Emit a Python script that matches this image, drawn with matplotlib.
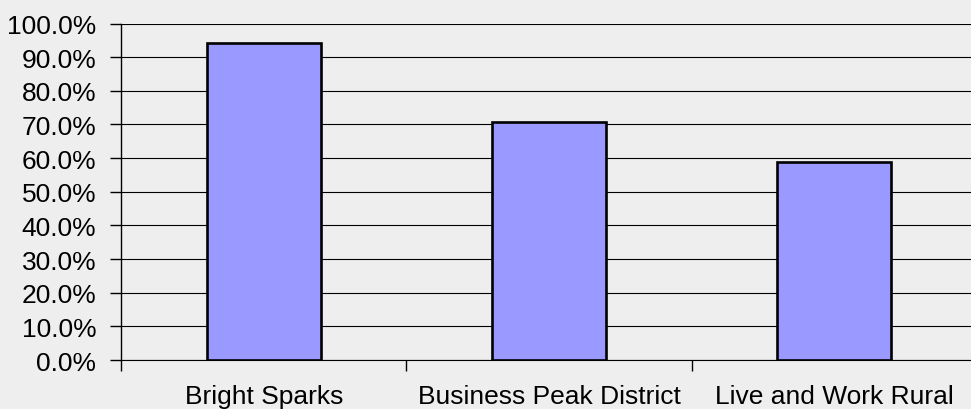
import matplotlib
matplotlib.use("Agg")
import matplotlib.pyplot as plt
from matplotlib.ticker import FixedLocator, FuncFormatter

categories = ["Bright Sparks", "Business Peak District", "Live and Work Rural"]
values = [94.3, 70.7, 58.9]
y_ticks = [0, 10, 20, 30, 40, 50, 60, 70, 80, 90, 100]

plt.rcParams["font.family"] = ["Liberation Sans", "DejaVu Sans"]

bg = "#EEEEEE"
fig = plt.figure(figsize=(9.71, 4.10), dpi=100, facecolor=bg)
ax = fig.add_axes([0.1251, 0.1195, 0.8806, 0.8207], facecolor=bg)

x = list(range(len(categories)))
ax.bar(x, values, width=0.4, color="#9999FF", edgecolor="black",
       linewidth=1.9, zorder=3)

ax.set_xlim(-0.5, len(categories) - 0.5)
ax.set_ylim(0, 100)

# horizontal gridlines at every major y tick
ax.set_yticks(y_ticks)
ax.yaxis.set_major_formatter(FuncFormatter(lambda v, p: f"{v:.1f}%"))
ax.grid(axis="y", color="black", linewidth=0.8, zorder=1)
ax.set_axisbelow(True)

# category labels centred, tick marks on category boundaries
ax.set_xticks(x)
ax.set_xticklabels(categories)
ax.xaxis.set_minor_locator(FixedLocator([i - 0.5 for i in range(len(categories) + 1)]))
ax.tick_params(axis="x", which="major", length=0, pad=17, labelsize=19)
ax.tick_params(axis="x", which="minor", length=8, width=1, color="black", direction="out")
ax.tick_params(axis="y", which="major", length=8, width=1, color="black",
               direction="out", pad=10, labelsize=19)

for s in ["top", "right"]:
    ax.spines[s].set_visible(False)
ax.spines["left"].set_color("black")
ax.spines["left"].set_linewidth(1)
ax.spines["bottom"].set_color("black")
ax.spines["bottom"].set_linewidth(0.8)

fig.savefig("out.png", dpi=100, facecolor=bg)
